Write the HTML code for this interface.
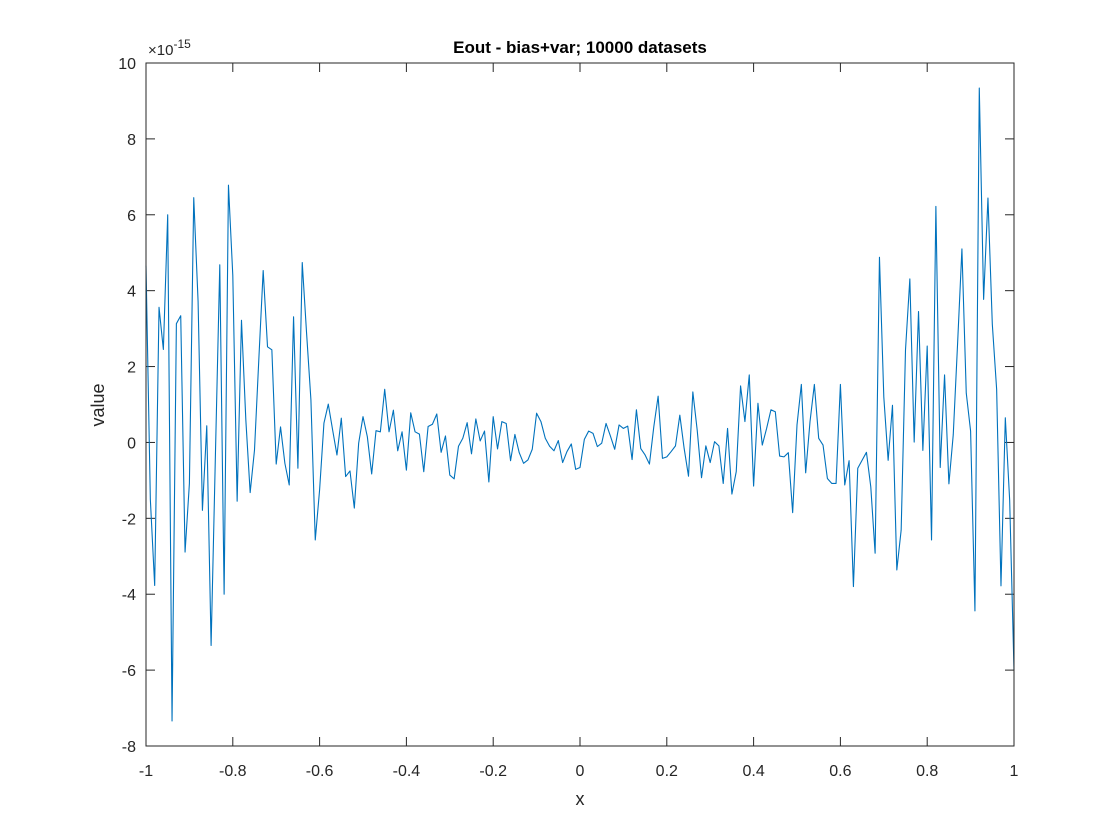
<!DOCTYPE html>
<html><head><meta charset="utf-8"><style>
html,body{margin:0;padding:0;background:#fff;}
svg{display:block;font-family:"Liberation Sans",Arial,sans-serif;}
</style></head><body>
<svg id="chart" width="1120" height="840" viewBox="0 0 1120 840" xmlns="http://www.w3.org/2000/svg">
<rect x="0" y="0" width="1120" height="840" fill="#fff"/>
<rect x="146" y="63" width="868" height="683" fill="#fff" stroke="none"/>
<g id="grid-ticks"></g>
<g id="series"></g>
<rect x="146" y="63" width="868" height="683" fill="none" stroke="#262626" stroke-width="1"/>
<text x="580" y="53" text-anchor="middle" font-size="17" font-weight="bold" fill="#000">Eout - bias+var; 10000 datasets</text>
<text x="148" y="55" font-size="15" fill="#262626">×10<tspan dy="-7" font-size="12">-15</tspan></text>
<text x="580" y="805" text-anchor="middle" font-size="18" fill="#262626">x</text>
<text x="0" y="0" transform="translate(104,405) rotate(-90)" text-anchor="middle" font-size="18" fill="#262626">value</text>
</svg>
<script>
const xTicks = [-1,-0.8,-0.6,-0.4,-0.2,0,0.2,0.4,0.6,0.8,1];
const xTickLabels = ["-1","-0.8","-0.6","-0.4","-0.2","0","0.2","0.4","0.6","0.8","1"];
const yTicks = [-8,-6,-4,-2,0,2,4,6,8,10];
const yTickLabels = ["-8","-6","-4","-2","0","2","4","6","8","10"];
const xStart = -1;
const xStep = 0.01;
const values = [4.66,-1.5,-3.77,3.56,2.45,6.0,-7.34,3.13,3.34,-2.89,-1.08,6.45,3.72,-1.79,0.44,-5.35,-0.3,4.68,-4.0,6.78,4.4,-1.55,3.22,0.6,-1.32,-0.2,2.2,
4.53,2.52,2.44,-0.57,0.41,-0.55,-1.12,3.31,-0.68,4.74,2.88,1.12,-2.57,-1.25,0.51,1.01,0.33,-0.33,0.64,-0.9,-0.75,-1.73,-0.02,0.68,0.15,
-0.83,0.31,0.28,1.40,0.28,0.85,-0.22,0.28,-0.73,0.78,0.28,0.22,-0.77,0.42,0.48,0.75,-0.26,0.17,-0.86,-0.96,-0.1,0.11,0.52,-0.3,0.62,0.04,0.30,-1.04,0.68,-0.17,0.55,0.50,-0.48,0.21,-0.27,-0.55,-0.46,-0.18,0.77,0.55,0.11,-0.1,-0.22,0.05,-0.53,-0.24,-0.04,-0.71,-0.66,0.08,0.30,0.24,-0.11,
-0.02,0.5,0.17,-0.18,0.46,0.37,0.43,-0.45,0.86,-0.16,-0.33,-0.57,0.41,1.22,-0.42,-0.38,-0.24,-0.09,0.72,-0.16,-0.89,1.33,0.33,-0.93,-0.09,-0.53,0.02,-0.09,-1.08,0.37,-1.36,-0.77,1.49,0.55,1.78,-1.15,1.03,-0.07,0.37,0.86,0.81,-0.36,-0.38,-0.27,-1.85,0.46,1.53,-0.8,0.55,1.53,0.11,-0.07,-0.95,
-1.08,-1.08,1.53,-1.12,-0.48,-3.80,-0.68,-0.47,-0.26,-1.17,-2.92,4.88,1.2,-0.47,0.98,-3.36,-2.31,2.44,4.31,
0.01,3.45,-0.21,2.54,-2.57,6.22,-0.66,1.78,-1.09,0.2,2.6,5.1,1.30,0.30,-4.44,9.34,3.77,6.44,3.12,1.4,-3.78,0.65,-1.52,-6.0];

const X0=146, X1=1014, Y0=746, Y1=63;
function xs(v){ return X0 + (v - (-1)) / 2 * (X1 - X0); }
function ys(v){ return Y0 - (v - (-8)) / 18 * (Y0 - Y1); }
const NS="http://www.w3.org/2000/svg";
const tg=document.getElementById('grid-ticks');
xTicks.forEach((t,i)=>{
  const x=xs(t);
  const l1=document.createElementNS(NS,'line');
  l1.setAttribute('x1',x);l1.setAttribute('x2',x);l1.setAttribute('y1',Y0);l1.setAttribute('y2',Y0-9);
  l1.setAttribute('stroke','#262626');
  
  
  tg.appendChild(l1);
  const l2=document.createElementNS(NS,'line');
  l2.setAttribute('x1',x);l2.setAttribute('x2',x);l2.setAttribute('y1',Y1);l2.setAttribute('y2',Y1+9);
  l2.setAttribute('stroke','#262626');
  
  
  tg.appendChild(l2);
  const tx=document.createElementNS(NS,'text');
  tx.setAttribute('x',x);tx.setAttribute('y',Y0+30);tx.setAttribute('text-anchor','middle');
  tx.setAttribute('font-size','16');tx.setAttribute('fill','#262626');
  tx.textContent=xTickLabels[i];
  
  
  tg.appendChild(tx);
});
yTicks.forEach((t,i)=>{
  const y=ys(t);
  const l1=document.createElementNS(NS,'line');
  l1.setAttribute('x1',X0);l1.setAttribute('x2',X0+9);l1.setAttribute('y1',y);l1.setAttribute('y2',y);
  l1.setAttribute('stroke','#262626');
  
  
  tg.appendChild(l1);
  const l2=document.createElementNS(NS,'line');
  l2.setAttribute('x1',X1);l2.setAttribute('x2',X1-9);l2.setAttribute('y1',y);l2.setAttribute('y2',y);
  l2.setAttribute('stroke','#262626');
  
  
  tg.appendChild(l2);
  const tx=document.createElementNS(NS,'text');
  tx.setAttribute('x',X0-10);tx.setAttribute('y',y+6);tx.setAttribute('text-anchor','end');
  tx.setAttribute('font-size','16');tx.setAttribute('fill','#262626');
  tx.textContent=yTickLabels[i];
  
  
  tg.appendChild(tx);
});
const pts=values.map((v,i)=>xs(xStart+i*xStep).toFixed(2)+','+ys(v).toFixed(2)).join(' ');
const pl=document.createElementNS(NS,'polyline');
pl.setAttribute('points',pts);
pl.setAttribute('fill','none');
pl.setAttribute('stroke','#0072BD');
pl.setAttribute('stroke-width','1.1');
pl.setAttribute('stroke-linejoin','round');


document.getElementById('series').appendChild(pl);
</script>
</body></html>
